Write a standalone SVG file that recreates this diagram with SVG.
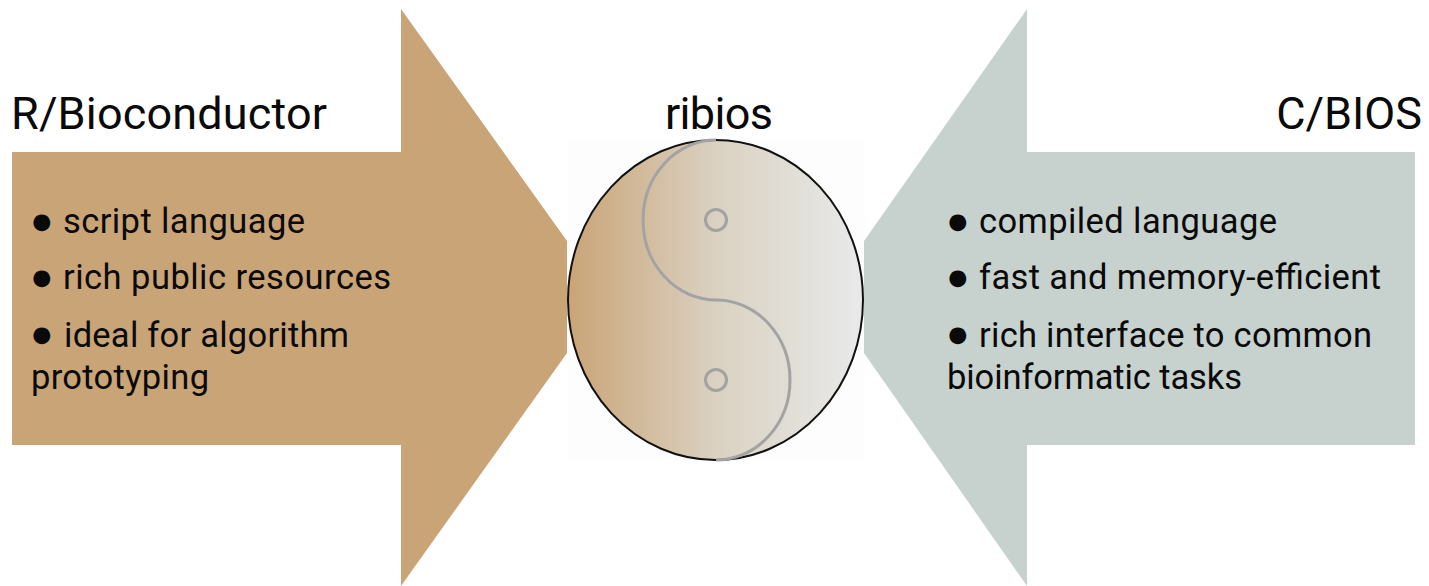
<svg xmlns="http://www.w3.org/2000/svg" width="1429" height="586" viewBox="0 0 1429 586">
<style>
text{font-family:Roboto,"Liberation Sans",sans-serif;fill:#0a0a0a}
.t{font-size:45px}
.b{font-size:34.5px}
.d{font-size:39px}
.y{fill:none;stroke:#a3a3a3;stroke-width:3}
</style>
<defs><linearGradient id="g" x1="0" x2="1" y1="0" y2="0"><stop offset="0" stop-color="#c9a477"/><stop offset="0.5" stop-color="#dad1c1"/><stop offset="1" stop-color="#e8eaea"/></linearGradient></defs>
<rect width="1429" height="586" fill="#fff"/>
<g id="left">
<polygon points="12,152 401,152 401,9 567,241 567,353 401,586 401,445 12,445" fill="#c9a477"/>
<text class="t" x="11" y="129" textLength="316">R/Bioconductor</text>
<text class="d" x="30" y="234">●</text>
<text class="b" x="63" y="233" textLength="242">script language</text>
<text class="d" x="30" y="290">●</text>
<text class="b" x="63" y="289" textLength="328">rich public resources</text>
<text class="d" x="30" y="347">●</text>
<text class="b" x="64" y="347" textLength="285">ideal for algorithm</text>
<text class="b" x="31" y="389" textLength="178">prototyping</text>
</g>
<g id="center">
<rect x="568" y="140" width="296" height="320" fill="#fdfdfd"/>
<ellipse cx="715.5" cy="300" rx="147.5" ry="160" fill="url(#g)" stroke="#111" stroke-width="2"/>
<path class="y" d="M716,140 A73,80 0 0 0 716,300 A74,80 0 0 1 716,460"/>
<circle class="y" cx="716" cy="220" r="10.5"/>
<circle class="y" cx="716" cy="380" r="10.5"/>
<text class="t" x="665" y="129" textLength="108">ribios</text>
</g>
<g id="right">
<polygon points="1415,152 1027,152 1027,9 864,241 864,353 1027,586 1027,445 1415,445" fill="#c7d1ce"/>
<text class="t" x="1422" y="129" text-anchor="end">C/BIOS</text>
<text class="d" x="946" y="234">●</text>
<text class="b" x="979" y="233" textLength="298">compiled language</text>
<text class="d" x="946" y="290">●</text>
<text class="b" x="979" y="289" textLength="402">fast and memory-efficient</text>
<text class="d" x="946" y="347">●</text>
<text class="b" x="979" y="347" textLength="393">rich interface to common</text>
<text class="b" x="947" y="389" textLength="295">bioinformatic tasks</text>
</g>
<g id="connectors"/>
</svg>
